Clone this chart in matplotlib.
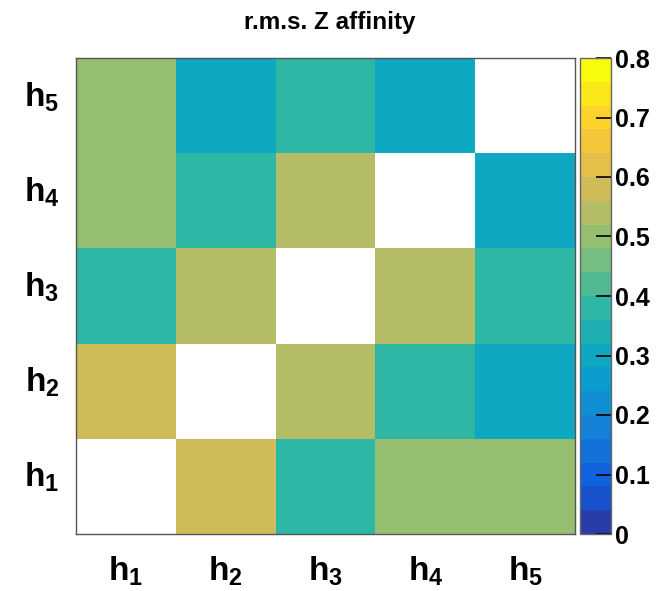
import numpy as np
import matplotlib
matplotlib.use("Agg")
import matplotlib.pyplot as plt
import matplotlib.transforms as mtransforms
from matplotlib.colors import LinearSegmentedColormap, ListedColormap, BoundaryNorm

labels = ["h1", "h2", "h3", "h4", "h5"]
sub = ["1", "2", "3", "4", "5"]

# rows = y (h1 at bottom), cols = x; diagonal left empty
row_h1 = [np.nan, 0.58, 0.38, 0.50, 0.50]
row_h2 = [0.58, np.nan, 0.54, 0.38, 0.30]
row_h3 = [0.38, 0.54, np.nan, 0.54, 0.38]
row_h4 = [0.50, 0.38, 0.54, np.nan, 0.30]
row_h5 = [0.50, 0.30, 0.38, 0.30, np.nan]

zmin, zmax, nlev = 0.0, 0.8, 20
cbar_ticks = [0, 0.1, 0.2, 0.3, 0.4, 0.5, 0.6, 0.7, 0.8]

# ROOT kBird palette
stops = [0.0, 0.125, 0.25, 0.375, 0.5, 0.625, 0.75, 0.875, 1.0]
red = [0.2082, 0.0592, 0.0780, 0.0232, 0.1802, 0.5301, 0.8186, 0.9956, 0.9764]
green = [0.1664, 0.3599, 0.5041, 0.6419, 0.7178, 0.7492, 0.7328, 0.7862, 0.9832]
blue = [0.5293, 0.8684, 0.8385, 0.7914, 0.6425, 0.4662, 0.3499, 0.1968, 0.0539]

plt.rcParams["font.family"] = ["Liberation Sans", "DejaVu Sans"]
plt.rcParams["font.weight"] = "bold"
plt.rcParams["mathtext.fontset"] = "custom"
plt.rcParams["mathtext.rm"] = "Liberation Sans:bold"
plt.rcParams["mathtext.it"] = "Liberation Sans:bold"
plt.rcParams["mathtext.bf"] = "Liberation Sans:bold"


def main():
    bird = LinearSegmentedColormap.from_list(
        "bird", list(zip(stops, zip(red, green, blue))), N=256)
    cols = [bird((k + 0.99) / nlev) for k in range(nlev)]
    cmap = ListedColormap(cols)
    bounds = np.linspace(zmin, zmax, nlev + 1)
    norm = BoundaryNorm(bounds, cmap.N)

    z = np.array([row_h1, row_h2, row_h3, row_h4, row_h5])

    fig = plt.figure(figsize=(6.57, 5.91), dpi=100)
    W, H = 657, 591
    ax = fig.add_axes([76 / W, 1 - 534 / H, (575 - 76) / W, (534 - 58) / H])
    cax = fig.add_axes([580 / W, 1 - 534 / H, (611 - 580) / W, (534 - 58) / H])

    edges = np.arange(len(labels) + 1)
    m = ax.pcolormesh(edges, edges, z, cmap=cmap, norm=norm)
    ax.set_xlim(0, 5)
    ax.set_ylim(0, 5)
    centers = np.arange(len(labels)) + 0.5
    ticklab = [r"$\mathrm{h}_{%s}$" % s for s in sub]
    ax.set_xticks(centers)
    ax.set_xticklabels(ticklab, fontsize=24)
    ax.set_yticks(centers)
    ax.set_yticklabels(ticklab, fontsize=24)
    ax.tick_params(length=0)
    ax.tick_params(axis="x", pad=15)
    ax.tick_params(axis="y", pad=12)
    shift = mtransforms.ScaledTranslation(0, 9 / 72, fig.dpi_scale_trans)
    for t in ax.get_yticklabels():
        t.set_transform(t.get_transform() + shift)
    for sp in ax.spines.values():
        sp.set_color("#555555")
        sp.set_linewidth(1.0)

    cb = fig.colorbar(m, cax=cax, ticks=cbar_ticks)
    cb.outline.set_edgecolor("#666666")
    cb.outline.set_linewidth(1.0)
    cax.minorticks_off()
    cax.tick_params(direction="in", length=11, width=1.2, labelsize=18, pad=3)
    cax.set_yticklabels(["0", "0.1", "0.2", "0.3", "0.4", "0.5", "0.6", "0.7", "0.8"])
    for t in cax.get_yticklabels():
        t.set_fontweight("bold")

    fig.text(330 / W, 1 - 23 / H, "r.m.s. Z affinity", ha="center", va="center",
             fontsize=17.5, fontweight="bold")

    fig.savefig("out.png", dpi=100)


if __name__ == "__main__":
    main()
